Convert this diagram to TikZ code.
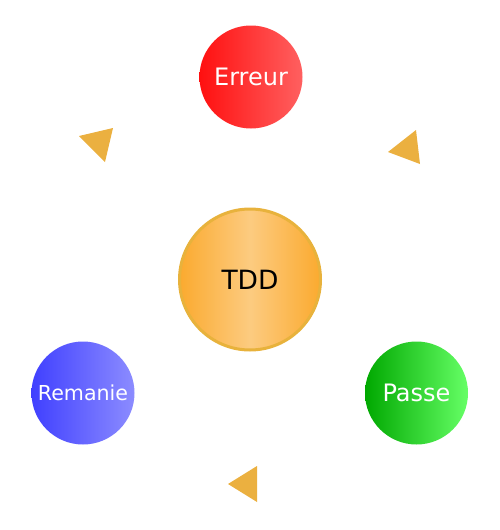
\documentclass[tikz,border=0pt]{standalone}
\usepackage{fontspec}
\setmainfont{DejaVu Sans}
\usetikzlibrary{positioning}

\definecolor{erreurleft}{HTML}{FF1010}
\definecolor{erreurright}{HTML}{FF6060}
\definecolor{remanieleft}{HTML}{4040FF}
\definecolor{remanieright}{HTML}{8C8CFF}
\definecolor{passeleft}{HTML}{00A800}
\definecolor{passeright}{HTML}{66FF66}
\definecolor{tddorange}{HTML}{FBAA2F}
\definecolor{tddlight}{HTML}{FCCB80}
\definecolor{tddborder}{HTML}{E8B23C}
\definecolor{arrowgold}{HTML}{EBB040}

\begin{document}
\begin{tikzpicture}[x=1pt, y=-1pt,
        phase/.style={circle, inner sep=0pt, minimum size=103pt,
                      text=white, font=\fontsize{24}{28}\selectfont},
        tip/.style={fill=arrowgold}]
        \useasboundingbox (0, 0) rectangle (500, 530);

        \node [phase, left color=erreurleft, right color=erreurright]
              (erreur) at (251, 77) {Erreur};
        \node [phase, left color=remanieleft, right color=remanieright,
               font=\fontsize{20.6}{24}\selectfont]
              (remanie) at (83, 393) {Remanie};
        \node [phase, left color=passeleft, right color=passeright]
              (passe) at (416.5, 393) {Passe};

        \node [circle, inner sep=0pt, minimum size=141pt,
               draw=tddborder, line width=3pt,
               left color=tddorange, right color=tddorange, middle color=tddlight,
               font=\fontsize{26.5}{30}\selectfont]
              (tdd) at (250, 279.5) {TDD};

        % arrow tips of the cycle
        \fill [tip] (79, 136) -- (113, 128) -- (105, 162) -- cycle;
        \fill [tip] (416, 130) -- (388, 152) -- (420, 164) -- cycle;
        \fill [tip] (257, 466) -- (228, 484) -- (257, 502) -- cycle;
\end{tikzpicture}
\end{document}
